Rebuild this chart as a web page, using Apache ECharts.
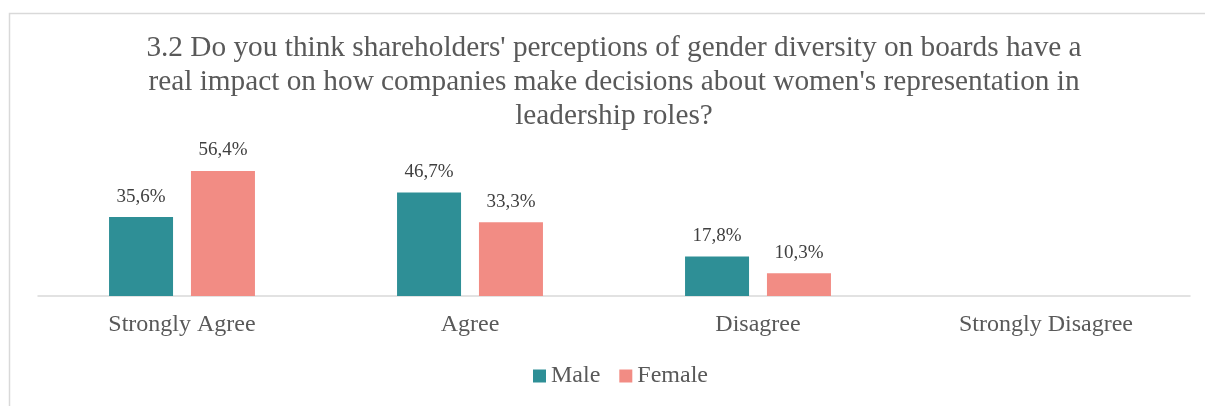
<!DOCTYPE html>
<html>
<head>
<meta charset="utf-8">
<script src="https://cdn.jsdelivr.net/npm/echarts@6/dist/echarts.min.js"></script>
<style>
  html, body { margin: 0; padding: 0; background: #fff; }
  #chart { width: 1205px; height: 406px; }
</style>
</head>
<body>
<div id="chart"></div>
<script>
const titleText = "3.2 Do you think shareholders' perceptions of gender diversity on boards have a\nreal impact on how companies make decisions about women's representation in\nleadership roles?"
const categories = ['Strongly Agree', 'Agree', 'Disagree', 'Strongly Disagree']
const male = [35.6, 46.7, 17.8, null]
const female = [56.4, 33.3, 10.3, null]

const font = '"Liberation Serif", "Times New Roman", serif'
const textColor = '#595959'

const chart = echarts.init(document.getElementById('chart'))

function fmt(p) {
  return p.value.toFixed(1).replace('.', ',') + '%'
}

chart.setOption({
  animation: false,
  textStyle: { fontFamily: font },
  graphic: [{
    type: 'rect',
    shape: { x: 9.5, y: 13.5, width: 1220, height: 420 },
    style: { fill: 'none', stroke: '#d9d9d9', lineWidth: 1.5 },
    silent: true
  }],
  title: {
    text: titleText,
    left: 609,
    top: 26,
    textAlign: 'center',
    textStyle: {
      fontFamily: font,
      fontSize: 29.3,
      fontWeight: 'normal',
      color: textColor,
      lineHeight: 34
    }
  },
  legend: {
    data: ['Male', 'Female'],
    top: 359,
    left: 528,
    itemWidth: 13,
    itemHeight: 13,
    itemGap: 19,
    icon: 'rect',
    textStyle: { fontFamily: font, fontSize: 24, color: textColor }
  },
  grid: { left: 38, right: 15, top: 163, bottom: 110 },
  xAxis: {
    type: 'category',
    data: categories,
    axisLine: { lineStyle: { color: '#d9d9d9', width: 1.5 } },
    axisTick: { show: false },
    axisLabel: { fontFamily: font, fontSize: 24, color: textColor, margin: 17 }
  },
  yAxis: {
    type: 'value',
    min: 0,
    max: 60,
    show: false,
    splitLine: { show: false }
  },
  series: [
    {
      name: 'Male',
      type: 'bar',
      data: male,
      barWidth: 64,
      barGap: '28%',
      itemStyle: { color: '#2e8f96' },
      label: { show: true, position: 'top', distance: 11, formatter: fmt, fontFamily: font, fontSize: 19, color: '#404040' }
    },
    {
      name: 'Female',
      type: 'bar',
      data: female,
      barWidth: 64,
      itemStyle: { color: '#f28c84' },
      label: { show: true, position: 'top', distance: 11, formatter: fmt, fontFamily: font, fontSize: 19, color: '#404040' }
    }
  ]
})
</script>
</body>
</html>
